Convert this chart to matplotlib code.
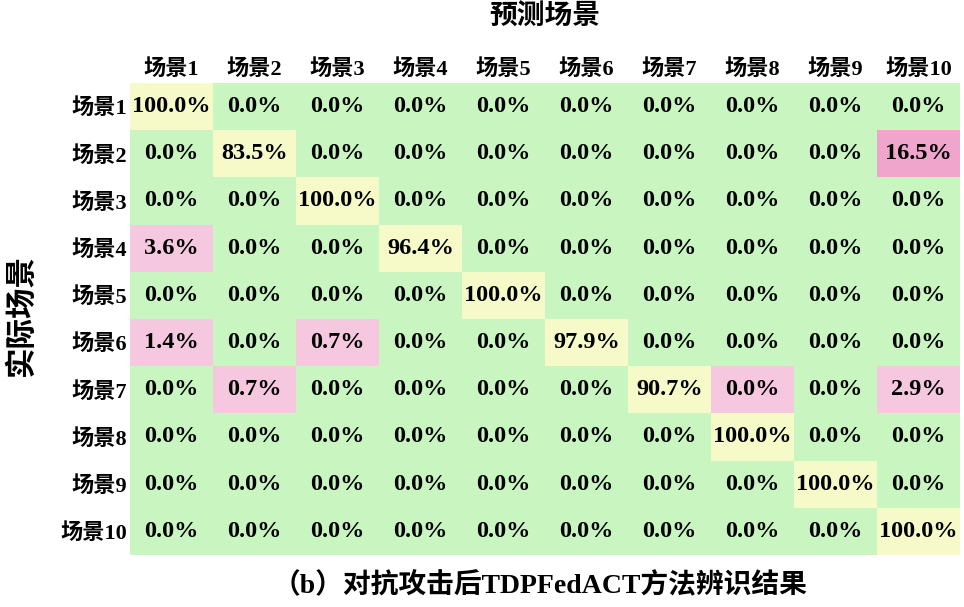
import matplotlib
matplotlib.use("Agg")
import matplotlib.pyplot as plt
import numpy as np

labels = ["场景%d" % i for i in range(1, 11)]
values = [
    [100.0, 0, 0, 0, 0, 0, 0, 0, 0, 0],
    [0, 83.5, 0, 0, 0, 0, 0, 0, 0, 16.5],
    [0, 0, 100.0, 0, 0, 0, 0, 0, 0, 0],
    [3.6, 0, 0, 96.4, 0, 0, 0, 0, 0, 0],
    [0, 0, 0, 0, 100.0, 0, 0, 0, 0, 0],
    [1.4, 0, 0.7, 0, 0, 97.9, 0, 0, 0, 0],
    [0, 0.7, 0, 0, 0, 0, 90.7, 0.04, 0, 2.9],
    [0, 0, 0, 0, 0, 0, 0, 100.0, 0, 0],
    [0, 0, 0, 0, 0, 0, 0, 0, 100.0, 0],
    [0, 0, 0, 0, 0, 0, 0, 0, 0, 100.0],
]
V = np.array(values)
n = len(labels)

fam = ["Liberation Serif", "Noto Sans CJK SC"]
fig = plt.figure(figsize=(9.64, 6.07), dpi=100)
ax = fig.add_axes([130/964, 1-555/607, 830/964, 472/607])

green = np.array([200, 245, 192]) / 255
yellow = np.array([245, 250, 200]) / 255
pink = np.array([245, 200, 224]) / 255
deep = np.array([240, 165, 205]) / 255
img = np.zeros((n, n, 3))
for i in range(n):
    for j in range(n):
        v = V[i, j]
        if i == j:
            img[i, j] = yellow
        elif v > 10:
            img[i, j] = deep
        elif v > 0:
            img[i, j] = pink
        else:
            img[i, j] = green
        ax.text(j, i, "%.1f%%" % v, ha="center", va="center", fontsize=17.5,
                fontweight="bold", family=fam)
ax.imshow(img, aspect="auto", interpolation="nearest")
ax.set_xticks(range(n))
ax.set_yticks(range(n))
ax.set_xticklabels(labels, family=fam, fontsize=16, fontweight="bold")
ax.set_yticklabels(labels, family=fam, fontsize=16, fontweight="bold")
ax.xaxis.tick_top()
ax.tick_params(length=0, pad=2)
for s in ax.spines.values():
    s.set_visible(False)
fig.text(545/964, 1-18/607, "预测场景", ha="center", va="center", family=fam, fontsize=20, fontweight="bold")
fig.text(22/964, 1-315/607, "实际场景", ha="center", va="center", rotation=90, family=fam, fontsize=22, fontweight="bold")
fig.text(540/964, 1-585/607, "（b）对抗攻击后TDPFedACT方法辨识结果", ha="center", va="center",
         family=fam, fontsize=20, fontweight="bold")
fig.savefig("out.png", dpi=100)
